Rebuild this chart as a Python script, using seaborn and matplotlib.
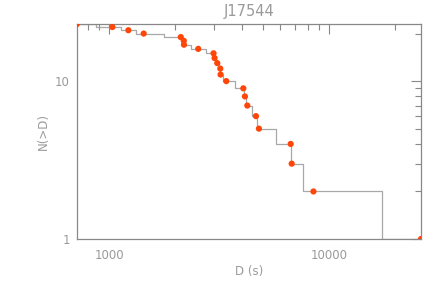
import numpy as np
import pandas as pd
import seaborn as sns
import matplotlib
matplotlib.use("Agg")
import matplotlib.pyplot as plt
from matplotlib.ticker import LogLocator, NullFormatter, FixedLocator, FixedFormatter

# durations (s) and cumulative counts N(>D)
durations = [715, 1035, 1224, 1437, 2118, 2186, 2190, 2543, 2985, 3017, 3103,
             3203, 3213, 3410, 4076, 4145, 4250, 4652, 4800, 6692, 6763, 8491, 26160]
counts = list(range(23, 0, -1))
title = "J17544"

df = pd.DataFrame({"D": durations, "N": counts})

sns.set_style("white")
plt.rcParams["font.family"] = ["DejaVu Sans"]
grey = "#9a9a9a"

fig = plt.figure(figsize=(4.45, 2.89), dpi=100)
ax = fig.add_axes([0.173, 0.173, 0.773, 0.744])

sns.lineplot(data=df, x="D", y="N", estimator=None, sort=False,
             drawstyle="steps-mid", color="#a8a8a8", lw=0.9, ax=ax)
sns.scatterplot(data=df, x="D", y="N", color="#ff4508", s=20,
                edgecolor="none", ax=ax, zorder=3)

ax.set_xscale("log")
ax.set_yscale("log")
ax.set_xlim(min(durations), max(durations))
ax.set_ylim(1, 23)

ax.xaxis.set_major_locator(FixedLocator([1000, 10000]))
ax.xaxis.set_major_formatter(FixedFormatter(["1000", "10000"]))
ax.xaxis.set_minor_locator(LogLocator(base=10, subs=np.arange(2, 10)))
ax.xaxis.set_minor_formatter(NullFormatter())
ax.yaxis.set_major_locator(FixedLocator([1, 10]))
ax.yaxis.set_major_formatter(FixedFormatter(["1", "10"]))
ax.yaxis.set_minor_locator(LogLocator(base=10, subs=np.arange(2, 10)))
ax.yaxis.set_minor_formatter(NullFormatter())

ax.tick_params(which="both", direction="in", top=True, right=True,
               color="#888888", labelcolor=grey, labelsize=8.5, width=0.8)
ax.tick_params(which="major", length=7)
ax.tick_params(axis="x", which="major", pad=7)
ax.tick_params(axis="y", which="major", pad=5)
ax.tick_params(which="minor", length=4)
for s in ax.spines.values():
    s.set_color("#888888")
    s.set_linewidth(0.9)

ax.set_title(title, color=grey, fontsize=10.5, pad=6)
ax.set_xlabel("D (s)", color=grey, fontsize=8.5, labelpad=2)
ax.set_ylabel("N(>D)", color=grey, fontsize=8.5, labelpad=4)

fig.savefig("out.png", dpi=100)
